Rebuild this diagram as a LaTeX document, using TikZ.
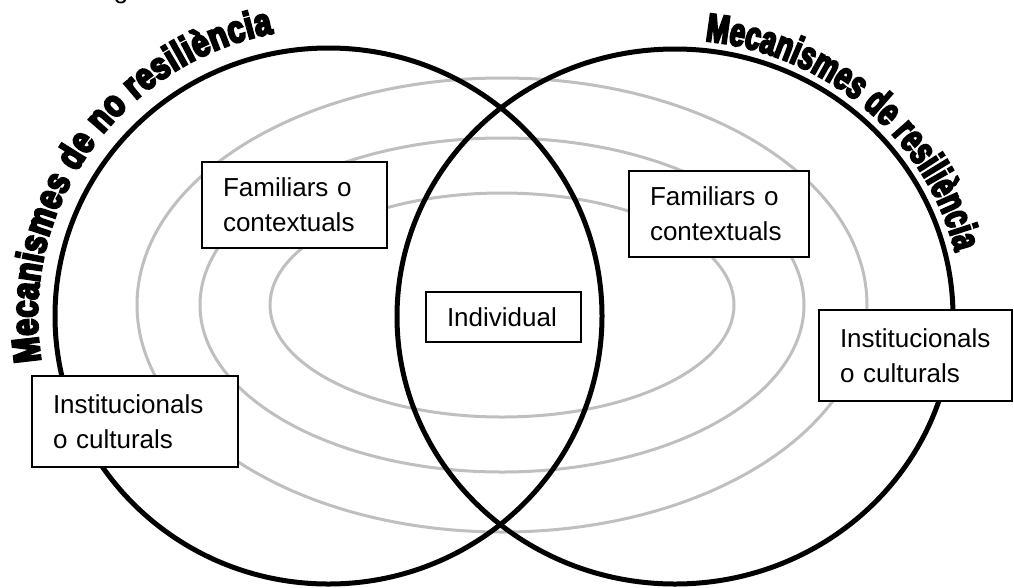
\documentclass[tikz,border=0pt]{standalone}
\usepackage{fontspec}
\setmainfont{Liberation Sans}
\newfontfamily\titlefontL[FakeBold=6,FakeStretch=0.8]{Liberation Sans Bold}
\newfontfamily\titlefontR[FakeBold=5,FakeStretch=0.68]{Liberation Sans Bold}
\usetikzlibrary{decorations.text}
\newcommand{\titleL}{\titlefontL\fontsize{38}{38}\selectfont}
\newcommand{\titleR}{\titlefontR\fontsize{40}{40}\selectfont}
\tikzset{
  ring/.style={draw=black!25, line width=3pt},
  bigcircle/.style={draw=black, line width=5pt},
  lbl/.style={draw=black, line width=1.6pt, fill=white, align=left,
    inner xsep=21pt, inner ysep=0pt,
    font=\fontsize{26}{35}\selectfont},
}
\begin{document}
\begin{tikzpicture}[x=1pt,y=1pt]
\useasboundingbox (0,0) rectangle (1014,-587);
% cropped glyph at the top edge
\node[anchor=base, inner sep=0pt, font=\fontsize{26}{26}\selectfont] (g) at (121,1.5) {g};
% grey concentric ellipses
\coordinate (cE) at (502,-305);
\draw[ring] (cE) ellipse [x radius=365pt, y radius=227pt];
\draw[ring] (cE) ellipse [x radius=302pt, y radius=167pt];
\draw[ring] (cE) ellipse [x radius=232pt, y radius=112pt];
% big circles
\coordinate (cL) at (328.5,-316);
\coordinate (cR) at (675,-316.5);
\draw[bigcircle] (cL) ellipse [x radius=273.5pt, y radius=268pt];
\draw[bigcircle] (cR) ellipse [x radius=278pt, y radius=267.5pt];
% boxes
\node[lbl, minimum width=185pt, minimum height=86pt, text width=143pt] (famL) at (294.5,-205) {Familiars o\\contextuals};
\node[lbl, minimum width=180pt, minimum height=86pt, text width=138pt] (famR) at (719,-214) {Familiars o\\contextuals};
\node[lbl, minimum width=155pt, minimum height=50pt, text width=113pt] (ind) at (503.5,-317) {Individual};
\node[lbl, minimum width=206pt, minimum height=91pt, text width=164pt] (instL) at (135,-421.5) {Institucionals\\o culturals};
\node[lbl, minimum width=193pt, minimum height=91pt, text width=151pt] (instR) at (915.5,-355.5) {Institucionals\\o culturals};
% curved titles
\path[shift={(cL)}, decorate, decoration={text along path,
   text={|\titleL|Mecanismes de no resiliència}, text align=fit to path}]
   (189:291pt and 288pt) arc[start angle=189, end angle=101, x radius=291pt, y radius=288pt];
\path[shift={(cR)}, decorate, decoration={text along path,
   text={|\titleR|Mecanismes de resiliència}, text align=fit to path}]
   (84:288pt and 277pt) arc[start angle=84, end angle=13.5, x radius=288pt, y radius=277pt];
\end{tikzpicture}
\end{document}
